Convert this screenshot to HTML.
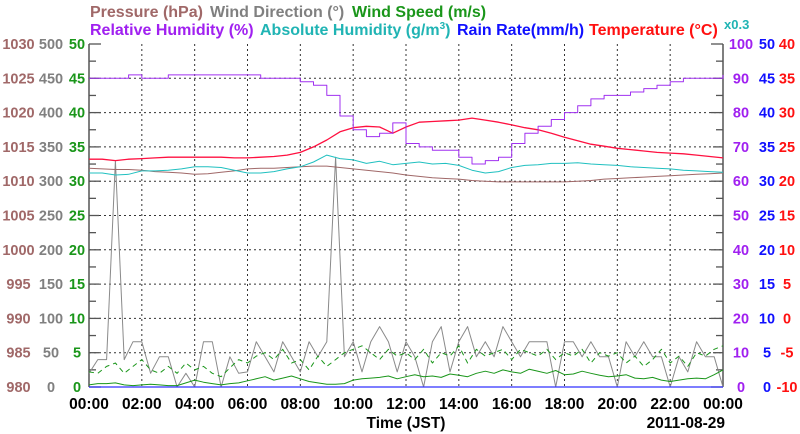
<!DOCTYPE html>
<html><head><meta charset="utf-8"><style>
html,body{margin:0;padding:0;background:#fff;}
svg{display:block;font-family:"Liberation Sans",sans-serif;font-weight:bold;}
</style></head><body>
<svg id="chart" width="800" height="434" viewBox="0 0 800 434" xmlns="http://www.w3.org/2000/svg">
<g font-size="16">
 <text x="90" y="17" fill="#a06868">Pressure (hPa)</text>
 <text x="210" y="17" fill="#808080">Wind Direction (°)</text>
 <text x="352" y="17" fill="#1a961a">Wind Speed (m/s)</text>
 <text x="90" y="35" fill="#a020f0">Relative Humidity (%)</text>
 <text x="260" y="35" fill="#20b4b4">Absolute Humidity (g/m<tspan dy="-6" font-size="10">3</tspan><tspan dy="6">)</tspan></text>
 <text x="457" y="35" fill="#1010ff">Rain Rate(mm/h)</text>
 <text x="589" y="35" fill="#ff1010">Temperature (°C)</text>
 <text x="724" y="29" fill="#20b4b4" font-size="13">x0.3</text>
</g>
<g id="grid"></g>
<g id="axes"></g>
<g id="series"></g>
<g id="labels" font-size="14.5"></g>
<text x="406" y="428" text-anchor="middle" font-size="15.5" fill="#000">Time (JST)</text>
<text x="725" y="428" text-anchor="end" font-size="15.5" fill="#000">2011-08-29</text>
</svg>
<script>
const hours30 = Array.from({length:49},(_, i)=>i*0.5);
const hours20 = Array.from({length:73},(_, i)=>i/3);
const rhValues = [90,90,90,91,90,90,91,91,91,91,91,91,91,90,90,90,89,88,85,79,75,73,74,77,71,70,69,69,67,65,66,67,71,74,76,78,80,82,84,85,85,86,87,88,89,90,90,90,91];
const tempValues = [23.2,23.2,23.0,23.2,23.3,23.4,23.5,23.5,23.5,23.5,23.5,23.4,23.4,23.5,23.6,23.8,24.2,25.0,26.0,27.2,27.8,28.0,27.9,27.0,27.9,28.6,28.7,28.8,28.9,29.2,28.9,28.6,28.2,27.8,27.5,27.0,26.4,25.9,25.4,25.1,24.8,24.6,24.4,24.2,24.1,24.0,23.8,23.6,23.4];
const absHumValues = [31.2,31.2,30.9,31.0,31.5,31.5,31.6,31.8,32.1,32.1,32.0,31.6,31.2,31.2,31.4,31.8,32.1,32.8,33.8,33.3,33.1,32.6,32.9,32.4,32.6,32.8,32.5,32.6,32.3,31.6,31.2,31.4,32.0,32.3,32.4,32.6,32.6,32.7,32.5,32.4,32.3,32.1,32.0,31.9,31.8,31.6,31.5,31.4,31.3];
const pressureValues = [1011.9,1011.8,1011.7,1011.7,1011.6,1011.4,1011.3,1011.2,1011.0,1011.1,1011.3,1011.5,1011.8,1011.9,1011.9,1012.0,1012.1,1012.2,1012.2,1012.0,1011.8,1011.6,1011.4,1011.2,1010.9,1010.7,1010.5,1010.4,1010.3,1010.1,1010.0,1009.9,1009.9,1009.9,1009.9,1009.9,1009.9,1010.0,1010.1,1010.3,1010.4,1010.5,1010.6,1010.7,1010.8,1010.9,1011.0,1011.1,1011.2];
const rainValues = Array(49).fill(0);
const windDirValues = [20,40,40,330,40,66,66,20,44,44,0,20,0,66,66,0,44,20,22,66,44,22,66,44,22,66,44,66,335,44,66,22,66,88,66,22,66,44,0,66,88,22,66,88,44,66,44,88,66,44,66,66,66,0,66,66,44,66,44,44,0,66,44,66,44,44,0,44,22,66,44,44,0];
const windAvgValues = [0.3,0.5,0.5,0.6,0.3,0.2,0.3,0.4,0.3,0.2,0.2,0.6,1.0,0.7,0.5,0.3,0.5,0.6,0.9,1.2,1.5,1.0,1.3,1.6,1.2,0.8,0.6,0.4,0.4,0.5,1.0,1.2,1.3,1.4,1.6,1.2,1.5,1.8,1.5,1.6,1.4,1.9,1.7,1.5,2.0,2.3,2.0,2.5,2.2,2.0,2.6,2.3,2.0,2.4,1.8,1.9,2.3,2.0,1.7,1.5,1.6,1.8,1.3,1.2,1.4,1.0,0.8,1.0,1.2,1.3,1.2,1.8,2.5];
const windGustValues = [2.2,2.0,3.0,3.5,2.0,3.0,4.0,2.5,2.0,3.0,2.0,3.5,2.5,3.0,2.0,1.5,2.8,4.0,3.5,4.5,5.0,4.0,5.5,3.5,4.0,2.5,4.5,3.0,4.0,5.0,5.5,6.0,5.0,4.0,5.5,4.5,5.0,4.0,5.5,3.5,5.0,4.5,6.0,3.5,5.5,4.5,5.0,5.5,4.0,5.5,5.0,4.5,5.5,4.0,5.0,4.5,5.5,3.5,5.0,4.5,5.0,3.5,4.5,3.0,4.0,5.5,3.5,4.5,3.0,5.0,4.5,5.5,6.0];
const xTickLabels = ["00:00","02:00","04:00","06:00","08:00","10:00","12:00","14:00","16:00","18:00","20:00","22:00","00:00"];
const pressureTicks = [980,985,990,995,1000,1005,1010,1015,1020,1025,1030];
const windDirTicks = [0,50,100,150,200,250,300,350,400,450,500];
const windSpeedTicks = [0,5,10,15,20,25,30,35,40,45,50];
const rhTicks = [0,10,20,30,40,50,60,70,80,90,100];
const rainTicks = [0,5,10,15,20,25,30,35,40,45,50];
const tempTicks = [-10,-5,0,5,10,15,20,25,30,35,40];

const X0=89, X1=723, Y0=387, Y1=44;
const NS="http://www.w3.org/2000/svg";
function xScale(h){return X0+(h/24)*(X1-X0);}
function lin(min,max){return v=>Y0-(v-min)/(max-min)*(Y0-Y1);}
const yP=lin(980,1030), yWD=lin(0,500), yWS=lin(0,50), yRH=lin(0,100), yRain=lin(0,50), yT=lin(-10,40), yAH=lin(0,50);
function mk(tag,attrs,parent){const e=document.createElementNS(NS,tag);for(const k in attrs)e.setAttribute(k,attrs[k]);parent.appendChild(e);return e;}

const grid=document.getElementById('grid');
for(let i=1;i<10;i++){
  const y=yWS(i*5);
  const l=mk('line',{x1:X0,x2:X1,y1:y,y2:y,stroke:'#333','stroke-width':1,'stroke-dasharray':'2,3'},grid);
  
  
}
for(let i=1;i<12;i++){
  const x=xScale(i*2);
  const l=mk('line',{x1:x,x2:x,y1:Y1,y2:Y0,stroke:'#333','stroke-width':1,'stroke-dasharray':'2,3'},grid);
  
  
}
const axes=document.getElementById('axes');
[[X0,1],[X1,-1]].forEach(([x,d])=>{
  const a=mk('line',{x1:x,x2:x,y1:Y1,y2:Y0,stroke:'#555','stroke-width':1.5},axes);
  
  
  for(let v=0;v<=50;v+=2.5){
    const y=yWS(v), major=(v%5===0);
    const len=major?(v%10===0?12:10):7;
    const t=mk('line',{x1:x,x2:x+d*len,y1:y,y2:y,stroke:'#555','stroke-width':1.3},axes);
    
    
  }
});
const series=document.getElementById('series');
function path(xs,ys,sx,sy,attrs,name,step){
  let d='';
  xs.forEach((h,i)=>{
    const x=xScale(h).toFixed(1), y=sy(ys[i]).toFixed(1);
    if(i===0) d+='M'+x+','+y;
    else if(step){ d+='H'+x+'V'+y; }
    else d+='L'+x+','+y;
  });
  const p=mk('path',Object.assign({d:d,fill:'none','stroke-linejoin':'round'},attrs),series);
  
  
}
path(hours20,windDirValues,xScale,yWD,{stroke:'#8a8a8a','stroke-width':1},'wind-direction-line');
path(hours20,windGustValues,xScale,yWS,{stroke:'#1a961a','stroke-width':1,'stroke-dasharray':'5,4'},'wind-gust-line');
path(hours20,windAvgValues,xScale,yWS,{stroke:'#1a961a','stroke-width':1},'wind-speed-line');
path(hours30,rainValues,xScale,yRain,{stroke:'#3030ff','stroke-width':1.2},'rain-rate-line');
path(hours30,pressureValues,xScale,yP,{stroke:'#a06868','stroke-width':1},'pressure-line');
path(hours30,absHumValues,xScale,yAH,{stroke:'#20c0c0','stroke-width':1},'absolute-humidity-line');
path(hours30,tempValues,xScale,yT,{stroke:'#ff1040','stroke-width':1.3},'temperature-line');
path(hours30,rhValues,xScale,yRH,{stroke:'#a030f0','stroke-width':1},'relative-humidity-line',true);

const labels=document.getElementById('labels');
function col(vals,sy,x,color,name){
  vals.forEach(v=>{
    const t=mk('text',{x:x,y:(sy(v)+5).toFixed(1),'text-anchor':'middle',fill:color},labels);
    t.textContent=String(v);
    
    
  });
}
col(pressureTicks,yP,18.5,'#a06868','pressure-tick-label');
col(windDirTicks,yWD,51,'#808080','wind-direction-tick-label');
col(windSpeedTicks,yWS,77,'#1a961a','wind-speed-tick-label');
col(rhTicks,yRH,741,'#a020f0','humidity-tick-label');
col(rainTicks,yRain,767,'#1010ff','rain-tick-label');
col(tempTicks,yT,787,'#ff1010','temperature-tick-label');
xTickLabels.forEach((s,i)=>{
  const t=mk('text',{x:xScale(i*2).toFixed(1),y:409,'text-anchor':'middle',fill:'#000','font-size':'15.5'},labels);
  t.textContent=s;
  
  
});
</script>
</body></html>
